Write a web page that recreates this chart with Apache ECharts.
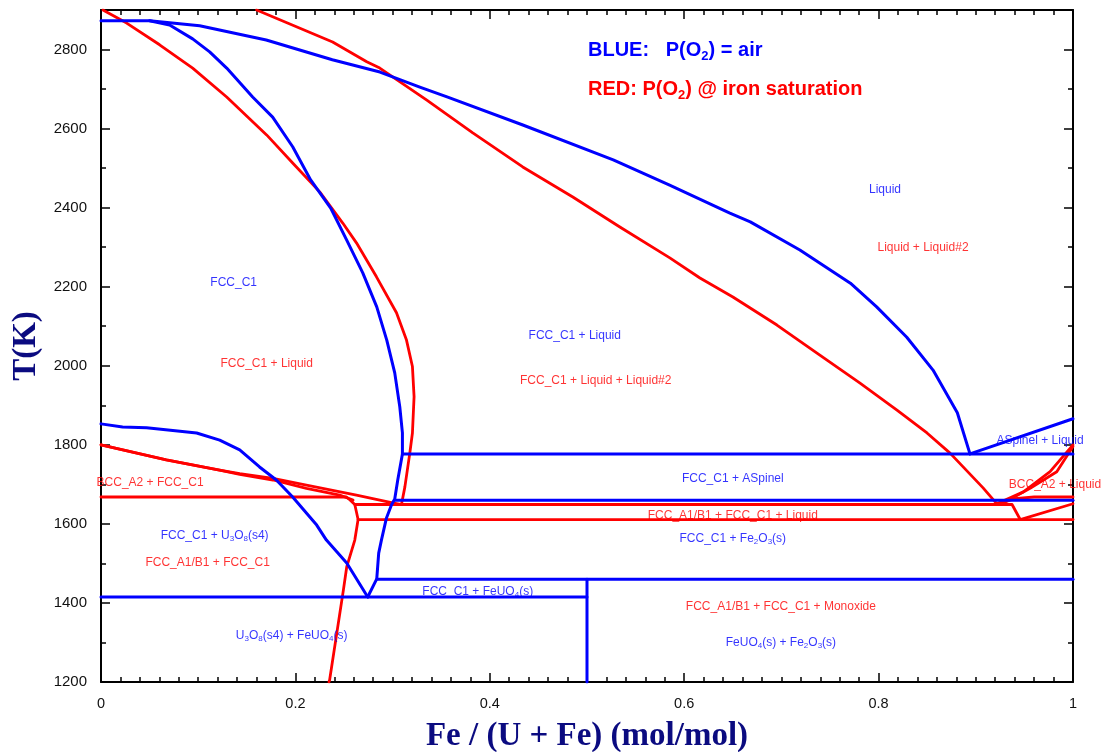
<!DOCTYPE html>
<html>
<head>
<meta charset="utf-8">
<script src="https://cdn.jsdelivr.net/npm/echarts@6/dist/echarts.min.js"></script>
<style>
  html, body { margin: 0; padding: 0; background: #ffffff; }
  #chart { width: 1106px; height: 752px; }
</style>
</head>
<body>
<div id="chart"></div>
<script>
// Fe / (U + Fe) phase diagram: blue = P(O2) of air, red = P(O2) at iron saturation.
// Each boundary is a list of [Fe/(U+Fe), T(K)] points.

// ---- blue boundaries (air) ----
const blueLiquidus = [[0,2873],[0.050,2873],[0.1015,2860],[0.170,2824],[0.238,2774],[0.287,2743],[0.328,2705],[0.356,2680],[0.434,2609],[0.527,2521],[0.585,2457],[0.647,2386],[0.668,2364],[0.719,2293],[0.771,2209],[0.798,2149],[0.829,2072],[0.856,1989],[0.881,1881],[0.894,1777]];
const blueFccBoundary = [[0.050,2873],[0.0706,2862],[0.0943,2827],[0.1118,2794],[0.1293,2753],[0.156,2680],[0.1766,2629],[0.1972,2554],[0.2157,2470],[0.2363,2399],[0.2528,2318],[0.2693,2235],[0.2837,2149],[0.294,2065],[0.3022,1982],[0.3074,1896],[0.3101,1830],[0.3101,1777],[0.3053,1711],[0.3022,1663],[0.2988,1648],[0.2937,1615],[0.2885,1559],[0.2857,1526],[0.2837,1461],[0.2744,1415]];
const blueU3O8Boundary = [[0,1853],[0.0222,1845],[0.0469,1843],[0.0984,1830],[0.1221,1812],[0.1427,1787],[0.1631,1744],[0.1804,1711],[0.1972,1668],[0.2219,1597],[0.2319,1559],[0.2528,1501],[0.2744,1415]];
const blueSpinelLiquidus = [[0.894,1777],[1,1866]];
const blueIso1777 = [[0.3101,1777],[1,1777]];
const blueIso1660 = [[0.3022,1660],[1,1660]];
const blueIso1460 = [[0.2837,1460],[1,1460]];
const blueIso1415 = [[0,1415],[0.5,1415]];
const blueFeUO4 = [[0.5,1200],[0.5,1460]];

// ---- red boundaries (iron saturation) ----
const redLiquidLiquid2 = [[0.1601,2900],[0.2383,2819],[0.2734,2769],[0.2868,2753],[0.3352,2672],[0.3825,2589],[0.4339,2503],[0.4854,2427],[0.5338,2351],[0.5852,2273],[0.6162,2222],[0.6501,2174],[0.6954,2103],[0.7366,2032],[0.7809,1956],[0.8189,1888],[0.8498,1830],[0.8735,1779],[0.9075,1691],[0.9219,1650]];
const redFccLiquidus = [[0.002,2900],[0.0264,2867],[0.0603,2812],[0.0943,2753],[0.1293,2680],[0.1704,2584],[0.1972,2513],[0.2250,2440],[0.2487,2361],[0.2628,2311],[0.2834,2225],[0.304,2134],[0.3143,2065],[0.3204,1998],[0.3221,1922],[0.3204,1830],[0.3177,1779],[0.3126,1693],[0.3091,1649]];
const redBccUpper = [[0,1800],[0.0672,1762],[0.122,1736],[0.1427,1727],[0.177,1715],[0.2113,1698],[0.2628,1673],[0.2988,1654],[0.3091,1649]];
const redBccLower = [[0,1800],[0.0672,1762],[0.122,1736],[0.1427,1725],[0.177,1711],[0.2113,1690],[0.2456,1673],[0.2593,1660]];
const redIso1668 = [[0,1668],[0.2525,1668],[0.2559,1661],[0.2611,1649],[0.2645,1611],[0.2611,1559],[0.2528,1491],[0.2494,1433],[0.2352,1205],[0.2345,1200]];
const redIso1649 = [[0.2611,1649],[0.9373,1649],[0.9457,1611]];
const redIso1611 = [[0.2645,1611],[1,1611]];
const redRightLow = [[0.9457,1611],[1,1651]];
const redRightMid = [[0.925,1652],[0.94,1664],[0.96,1668],[1,1668]];
const redLensUpper = [[0.9216,1651],[0.949,1681],[0.9764,1732],[1,1800]];
const redLensLower = [[0.930,1655],[0.9559,1690],[0.9833,1732],[1,1796]];

// ---- region labels: [x, T, text, colour]; "_n" marks a subscript digit ----
const labelX = [0.1365, 0.1705, 0.4874, 0.509, 0.8066, 0.8457, 0.9661, 0.9815, 0.0505, 0.650, 0.650, 0.650, 0.1169, 0.1097, 0.3876, 0.1962, 0.6995, 0.6995];
const labelT = [2209, 2005, 2075, 1962, 2445, 2298, 1810, 1698, 1703, 1714, 1620, 1562, 1569, 1501, 1428, 1316, 1390, 1299];
const labelText = [
  'FCC_C1', 'FCC_C1 + Liquid', 'FCC_C1 + Liquid', 'FCC_C1 + Liquid + Liquid#2',
  'Liquid', 'Liquid + Liquid#2', 'ASpinel + Liquid', 'BCC_A2 + Liquid',
  'BCC_A2 + FCC_C1', 'FCC_C1 + ASpinel', 'FCC_A1/B1 + FCC_C1 + Liquid', 'FCC_C1 + Fe_2O_3(s)',
  'FCC_C1 + U_3O_8(s4)', 'FCC_A1/B1 + FCC_C1', 'FCC_C1 + FeUO_4(s)', 'U_3O_8(s4) + FeUO_4(s)',
  'FCC_A1/B1 + FCC_C1 + Monoxide', 'FeUO_4(s) + Fe_2O_3(s)'
];
const labelColor = ['b','r','b','r','b','r','b','r','r','b','r','b','b','r','b','b','r','b'];

const xTicks = [0, 0.2, 0.4, 0.6, 0.8, 1];
const yTicks = [1200, 1400, 1600, 1800, 2000, 2200, 2400, 2600, 2800];

const BLUE = '#0000ff';
const RED = '#ff0000';
const NAVY = '#0b0b80';

// turn "U_3O_8" into rich-text tokens with subscripts
function toRich(text, key) {
  const parts = text.split(/_(\d)/);
  let out = '';
  parts.forEach((p, i) => {
    if (p === '') return;
    out += (i % 2 === 1) ? '{' + key + 's|' + p + '}' : '{' + key + '|' + p + '}';
  });
  return out;
}

function boundary(data, color, width, z) {
  return {
    type: 'line',
    data: data,
    showSymbol: false,
    symbol: 'none',
    silent: true,
    z: z,
    lineStyle: { color: color, width: width, cap: 'round', join: 'round' }
  };
}

const chart = echarts.init(document.getElementById('chart'), null, { renderer: 'canvas' });

const labelFont = 'Liberation Sans, Arial, sans-serif';
const richLabel = {
  b:  { color: BLUE, fontSize: 12, lineHeight: 12, fontFamily: labelFont, verticalAlign: 'top' },
  bs: { color: BLUE, fontSize: 8, lineHeight: 8, fontFamily: labelFont, padding: [6, 0, 0, 0] },
  r:  { color: RED, fontSize: 12, lineHeight: 12, fontFamily: labelFont, verticalAlign: 'top' },
  rs: { color: RED, fontSize: 8, lineHeight: 8, fontFamily: labelFont, padding: [6, 0, 0, 0] }
};

const blueSets = [blueLiquidus, blueFccBoundary, blueU3O8Boundary, blueSpinelLiquidus, blueIso1777, blueIso1660, blueIso1460, blueIso1415, blueFeUO4];
const redSets = [redLiquidLiquid2, redFccLiquidus, redBccUpper, redBccLower, redIso1668, redIso1649, redIso1611, redRightLow, redRightMid, redLensUpper, redLensLower];

const series = [];
redSets.forEach(d => series.push(boundary(d, RED, 2.8, 2)));
blueSets.forEach(d => series.push(boundary(d, BLUE, 3, 3)));
series.push({
  type: 'scatter',
  silent: true,
  z: 5,
  symbol: 'circle',
  symbolSize: 1,
  itemStyle: { color: 'rgba(0,0,0,0)' },
  data: labelX.map((x, i) => [x, labelT[i]]),
  label: {
    show: true,
    position: 'inside',
    formatter: p => toRich(labelText[p.dataIndex], labelColor[p.dataIndex]),
    rich: richLabel
  }
});

const tickLabelFont = 'Liberation Sans, Arial, sans-serif';
const axisLineStyle = { color: '#000', width: 2 };
const tickStyle = { color: '#000', width: 1.5 };

function xAxisDef(position, showLabels) {
  return {
    type: 'value', position: position, min: xTicks[0], max: xTicks[xTicks.length - 1], interval: 0.2,
    axisLine: { show: true, onZero: false, lineStyle: axisLineStyle },
    axisTick: { show: true, inside: true, length: 9, lineStyle: tickStyle },
    minorTick: { show: true, splitNumber: 10, length: 5, lineStyle: tickStyle },
    splitLine: { show: false },
    axisLabel: { show: showLabels, color: '#111', fontSize: 14.5, fontFamily: tickLabelFont, margin: 14 },
    name: showLabels ? 'Fe / (U + Fe) (mol/mol)' : '',
    nameLocation: 'middle', nameGap: 38,
    nameTextStyle: { fontFamily: 'Liberation Serif, Times New Roman, serif', fontWeight: 'bold', fontSize: 33, color: NAVY }
  };
}
function yAxisDef(position, showLabels) {
  return {
    type: 'value', position: position, min: yTicks[0], max: 2900, interval: 200,
    axisLine: { show: true, onZero: false, lineStyle: axisLineStyle },
    axisTick: { show: true, inside: true, length: 9, lineStyle: tickStyle },
    minorTick: { show: true, splitNumber: 2, length: 5, lineStyle: tickStyle },
    splitLine: { show: false },
    axisLabel: {
      show: showLabels, color: '#111', fontSize: 15, fontFamily: tickLabelFont, margin: 14,
      formatter: v => (yTicks.indexOf(v) >= 0 ? String(v) : '')
    },
    name: showLabels ? 'T(K)' : '',
    nameLocation: 'middle', nameGap: 58, nameRotate: 90,
    nameTextStyle: { fontFamily: 'Liberation Serif, Times New Roman, serif', fontWeight: 'bold', fontSize: 33, color: NAVY }
  };
}

// legend lines drawn as zrender text, so rich tokens use "fill"
const legendFont = 'Liberation Sans, Arial, sans-serif';
const legendRich = {
  b:  { fill: BLUE, fontSize: 20, fontWeight: 'bold', fontFamily: legendFont, lineHeight: 22, verticalAlign: 'top' },
  bs: { fill: BLUE, fontSize: 13, fontWeight: 'bold', fontFamily: legendFont, lineHeight: 13, padding: [11, 0, 0, 0] },
  r:  { fill: RED, fontSize: 20, fontWeight: 'bold', fontFamily: legendFont, lineHeight: 22, verticalAlign: 'top' },
  rs: { fill: RED, fontSize: 13, fontWeight: 'bold', fontFamily: legendFont, lineHeight: 13, padding: [11, 0, 0, 0] }
};

chart.setOption({
  animation: false,
  backgroundColor: '#ffffff',
  grid: { left: 101, right: 33, top: 10, bottom: 70, containLabel: false, outerBoundsMode: 'none' },
  xAxis: [xAxisDef('bottom', true), xAxisDef('top', false)],
  yAxis: [yAxisDef('left', true), yAxisDef('right', false)],
  graphic: [
    { type: 'text', left: 588, top: 39, z: 10,
      style: { text: toRich('BLUE:   P(O_2) = air', 'b'), fill: BLUE, rich: legendRich } },
    { type: 'text', left: 588, top: 78, z: 10,
      style: { text: toRich('RED: P(O_2) @ iron saturation', 'r'), fill: RED, rich: legendRich } }
  ],
  series: series
});
</script>
</body>
</html>
